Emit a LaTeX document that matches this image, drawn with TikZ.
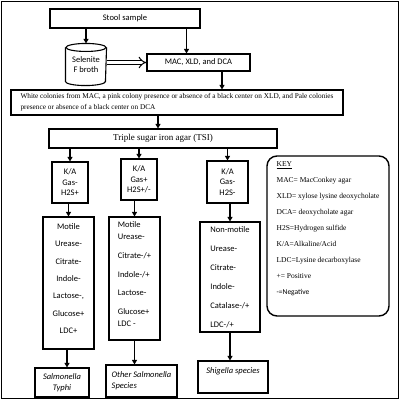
\documentclass[tikz,border=0pt]{standalone}
\usepackage{fontspec}
\setmainfont{Liberation Serif}
\newfontfamily\calib{Carlito}
\usetikzlibrary{arrows.meta}
\tikzset{
box/.style={draw, line width=1.1pt, inner sep=0pt, align=center,
    font=\calib\fontsize{8.5}{10.5}\selectfont},
serifbox/.style={draw, line width=1.1pt, inner sep=0pt,
    font=\fontsize{7.5}{11}\selectfont},
arr/.style={line width=1.2pt, -{Triangle[length=4.5pt,width=5pt]}},
dbl/.style={double, double distance=3pt, line width=1pt, -{Implies}}
}
\begin{document}
\begin{tikzpicture}[x=1pt,y=-1pt]
\useasboundingbox (0,0) rectangle (400,400);
\draw[line width=0.8pt] (1.5,1.5) rectangle (398.5,398.5);

% sample and media
\node[box, minimum width=150pt, minimum height=19pt] (stool) at (125,18.5) {Stool sample};
\node[box, draw=none, minimum width=40pt, minimum height=41pt] (sel) at (86,64.5) {Selenite\\F broth};
\draw[line width=1.1pt] ([yshift=-4pt]sel.north west) -- ([yshift=4pt]sel.south west)
    arc[start angle=180, end angle=360, x radius=20pt, y radius=4pt] -- ([yshift=-4pt]sel.north east);
\draw[line width=1.1pt] ([yshift=-4pt]sel.north) ellipse[x radius=20pt, y radius=4pt];
\node[box, minimum width=103pt, minimum height=17pt] (mac) at (198.5,62.5) {MAC, XLD, and DCA};
\node[serifbox, font=\fontsize{7.3}{11}\selectfont, minimum width=332pt, minimum height=25pt, align=left] (white) at (177,102.5)
    {White colonies from MAC, a pink colony presence or absence of a black center on XLD, and Pale colonies\\
     presence or absence of a black center on DCA};
\node[serifbox, font=\fontsize{9}{11}\selectfont, minimum width=228pt, minimum height=19pt] (tsi) at (163,138.5)
    {Triple sugar iron agar (TSI)};

% TSI reactions
\node[box, minimum width=36pt, minimum height=41pt] (ka1) at (70,182.5) {K/A\\Gas-\\H2S+};
\node[box, minimum width=36pt, minimum height=41pt] (ka2) at (139,179.5) {K/A\\Gas+\\H2S+/-};
\node[box, minimum width=41pt, minimum height=42pt] (ka3) at (227.5,182) {K/A\\Gas-\\H2S-};

% biochemical tests
\node[box, font=\calib\fontsize{8.5}{17.4}\selectfont, minimum width=51pt, minimum height=132pt] (tst1) at (68.5,283)
    {Motile\\Urease-\\Citrate-\\Indole-\\Lactose-,\\Glucose+\\LDC+\\[-8.4pt]{}};
\node[box, align=left, font=\calib\fontsize{8.5}{12}\selectfont, minimum width=51pt, minimum height=123pt] (tst2) at (134.5,278.5)
    {Motile\\Urease-\\[7pt]Citrate-/+\\[7pt]Indole-/+\\[6pt]Lactose-\\[7pt]Glucose+\\LDC -\\[-4pt]{}};
\node[box, align=left, font=\calib\fontsize{8.5}{19}\selectfont, minimum width=60pt, minimum height=110pt] (tst3) at (230,277)
    {Non-motile\\Urease-\\Citrate-\\Indole-\\Catalase-/+\\LDC-/+};

% results
\node[box, font=\calib\itshape\fontsize{8.5}{11}\selectfont, minimum width=54pt, minimum height=29pt] (res1) at (62,382.5)
    {Salmonella\\Typhi};
\node[box, align=left, font=\calib\itshape\fontsize{8.5}{11}\selectfont, minimum width=71pt, minimum height=32pt] (res2) at (141.5,381)
    {Other Salmonella\\Species};
\node[box, font=\calib\itshape\fontsize{8.5}{11}\selectfont, minimum width=70pt, text height=9pt, text depth=17pt, inner ysep=3pt] (res3) at (233,377)
    {Shigella species};

% key
\node[serifbox, rounded corners=10pt, line width=1.4pt, align=left, font=\fontsize{7.5}{16}\selectfont,
    minimum width=122pt, minimum height=160pt] (key) at (328,236)
    {\underline{KEY}\\MAC= MacConkey agar\\XLD= xylose lysine deoxycholate\\DCA= deoxycholate agar\\
     H2S=Hydrogen sulfide\\K/A=Alkaline/Acid\\LDC=Lysine decarboxylase\\+= Positive\\{\calib -=Negative}\\[-1pt]{}};

% arrows
\draw[arr] (sel.north |- stool.south) -- (sel.north);
\draw[arr] ([xshift=-12pt]mac.north |- stool.south) -- ([xshift=-12pt]mac.north);
\draw[dbl] (sel.east |- mac.west) -- (mac.west);
\draw[arr] ([xshift=23.5pt]mac.south) -- ([xshift=23.5pt]mac.south |- white.north);
\draw[arr] ([xshift=-5pt]tsi.north |- white.south) -- ([xshift=-5pt]tsi.north);
\draw[arr] (ka1.north |- tsi.south) -- (ka1.north);
\draw[arr] (ka2.north |- tsi.south) -- (ka2.north);
\draw[arr] (ka3.north |- tsi.south) -- (ka3.north);
\draw[arr] (tst1.north |- ka1.south) -- (tst1.north);
\draw[arr] (tst2.north |- ka2.south) -- (tst2.north);
\draw[arr] (tst3.north |- ka3.south) -- (tst3.north);
\draw[arr] ([xshift=-1.5pt]tst1.south) -- ([xshift=-1.5pt]tst1.south |- res1.north);
\draw[arr] (tst2.south) -- (tst2.south |- res2.north);
\draw[arr] (tst3.south) -- (tst3.south |- res3.north);
\end{tikzpicture}
\end{document}
